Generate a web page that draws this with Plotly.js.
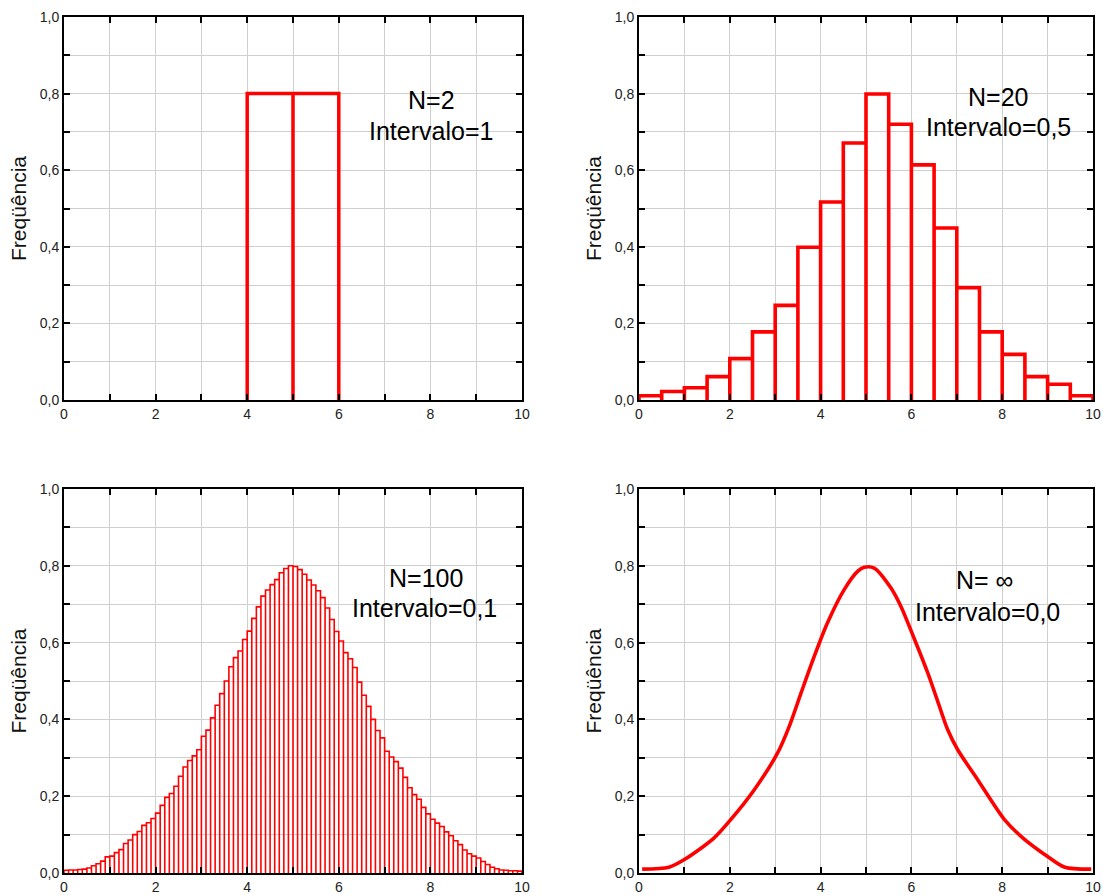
<!DOCTYPE html>
<html>
<head>
<meta charset="utf-8">
<script src="https://cdn.plot.ly/plotly-3.0.1.min.js"></script>
<style>html,body{margin:0;padding:0;background:#fff;}#chart{width:1103px;height:895px;}</style>
</head>
<body>
<div id="chart"></div>
<script>
// ---------- data ----------
// N = 2, interval = 1
const n2Edges = [4, 5, 6];
const n2Freq = [0.8, 0.8];

// N = 20, interval = 0,5
const n20Edges = [0, 0.5, 1, 1.5, 2, 2.5, 3, 3.5, 4, 4.5, 5, 5.5, 6, 6.5, 7, 7.5, 8, 8.5, 9, 9.5, 10];
const n20Freq = [0.011, 0.022, 0.032, 0.061, 0.108, 0.178, 0.247, 0.399, 0.517, 0.671,
                 0.799, 0.720, 0.614, 0.449, 0.293, 0.178, 0.119, 0.061, 0.041, 0.011];

// N = 100, interval = 0,1 (bins of 0.1 from 0 to 10)
const n100Start = 0;
const n100BinWidth = 0.1;
const n100Freq = [
  0.007, 0.008, 0.008, 0.009, 0.010, 0.013, 0.019, 0.024, 0.031, 0.042,
  0.044, 0.053, 0.061, 0.077, 0.086, 0.100, 0.108, 0.124, 0.131, 0.142,
  0.156, 0.176, 0.197, 0.207, 0.226, 0.252, 0.276, 0.293, 0.305, 0.321,
  0.356, 0.372, 0.404, 0.437, 0.467, 0.500, 0.537, 0.561, 0.578, 0.608,
  0.630, 0.663, 0.693, 0.721, 0.737, 0.751, 0.764, 0.782, 0.793, 0.800,
  0.798, 0.790, 0.778, 0.763, 0.750, 0.735, 0.717, 0.690, 0.660, 0.629,
  0.604, 0.574, 0.558, 0.535, 0.497, 0.463, 0.434, 0.400, 0.371, 0.352,
  0.317, 0.302, 0.290, 0.273, 0.249, 0.222, 0.204, 0.192, 0.171, 0.154,
  0.140, 0.130, 0.121, 0.107, 0.097, 0.084, 0.074, 0.060, 0.050, 0.044,
  0.039, 0.030, 0.022, 0.015, 0.011, 0.008, 0.007, 0.006, 0.006, 0.005
];

// N = infinity, interval = 0,0 (continuous curve)
const nInfX = [0.07, 0.66, 1.0, 1.65, 2.02, 2.54, 3.05, 3.31, 3.57, 3.86, 4.15, 4.52, 4.82, 4.96,
               5.18, 5.55, 5.77, 6.07, 6.36, 6.58, 6.8, 7.02, 7.46, 8.05, 8.42, 9.0, 9.38, 9.96];
const nInfY = [0.010, 0.015, 0.035, 0.091, 0.139, 0.217, 0.312, 0.382, 0.469, 0.564, 0.651, 0.738, 0.786, 0.796,
               0.794, 0.742, 0.694, 0.608, 0.521, 0.447, 0.373, 0.321, 0.243, 0.139, 0.095, 0.043, 0.015, 0.010];

// labels
const yTitle = 'Freqüência';
const panelLabels = [
  ['N=2', 'Intervalo=1'],
  ['N=20', 'Intervalo=0,5'],
  ['N=100', 'Intervalo=0,1'],
  ['N= \u221E', 'Intervalo=0,0']
];

// ---------- helpers ----------
function regularEdges(start, width, n) {
  const e = [];
  for (let i = 0; i <= n; i++) e.push(+(start + i * width).toFixed(6));
  return e;
}
// outline of each histogram bar (left side, top, right side; open at the bottom)
function barOutline(edges, freq) {
  const x = [], y = [];
  for (let i = 0; i < freq.length; i++) {
    x.push(edges[i], edges[i], edges[i + 1], edges[i + 1]);
    y.push(0, freq[i], freq[i], 0);
  }
  return {x, y};
}

const o2 = barOutline(n2Edges, n2Freq);
const o20 = barOutline(n20Edges, n20Freq);
const o100 = barOutline(regularEdges(n100Start, n100BinWidth, n100Freq.length), n100Freq);

const RED = '#ff0000';
const GRID = '#cfcfcf';
const FONT = 'Liberation Sans, Arial, sans-serif';

const traces = [
  {type: 'scatter', mode: 'lines', x: o2.x, y: o2.y, xaxis: 'x', yaxis: 'y',
   line: {color: RED, width: 3.5}, hoverinfo: 'x+y'},
  {type: 'scatter', mode: 'lines', x: o20.x, y: o20.y, xaxis: 'x2', yaxis: 'y2',
   line: {color: RED, width: 3.6}, hoverinfo: 'x+y'},
  {type: 'scatter', mode: 'lines', x: o100.x, y: o100.y, xaxis: 'x3', yaxis: 'y3',
   line: {color: RED, width: 1.6}, hoverinfo: 'x+y'},
  {type: 'scatter', mode: 'lines', x: nInfX, y: nInfY, xaxis: 'x4', yaxis: 'y4',
   line: {color: RED, width: 3.6, shape: 'spline', smoothing: 0.8}}
];

function xAxis(domain, anchor) {
  return {
    domain: domain, anchor: anchor, range: [0, 10], autorange: false,
    dtick: 2, tick0: 0, ticks: 'inside', ticklen: 6, tickwidth: 2, tickcolor: '#000',
    showline: true, linecolor: '#000', linewidth: 2, mirror: 'ticks',
    showgrid: true, gridcolor: GRID, gridwidth: 1, zeroline: false,
    minor: {dtick: 1, tick0: 0, ticks: 'inside', ticklen: 6, tickwidth: 2, tickcolor: '#000',
            showgrid: true, gridcolor: GRID, gridwidth: 1},
    tickfont: {family: FONT, size: 14, color: '#222'},
    automargin: false, fixedrange: true
  };
}
function yAxis(domain, anchor) {
  return {
    domain: domain, anchor: anchor, range: [0, 1], autorange: false,
    dtick: 0.2, tick0: 0, tickformat: '.1f',
    ticks: 'inside', ticklen: 6, tickwidth: 2, tickcolor: '#000',
    showline: true, linecolor: '#000', linewidth: 2, mirror: 'ticks',
    showgrid: true, gridcolor: GRID, gridwidth: 1, zeroline: false,
    minor: {dtick: 0.1, tick0: 0, ticks: 'inside', ticklen: 6, tickwidth: 2, tickcolor: '#000',
            showgrid: true, gridcolor: GRID, gridwidth: 1},
    tickfont: {family: FONT, size: 14, color: '#222'},
    title: {text: yTitle, font: {family: FONT, size: 21, color: '#111'}, standoff: 7},
    automargin: false, fixedrange: true
  };
}

const W = 1103, H = 895;
const dxL = [64 / W, 522 / W], dxR = [639 / W, 1093 / W];
const dyT = [1 - 400 / H, 1 - 17 / H], dyB = [1 - 873 / H, 1 - 489 / H];

const annPos = [
  [['x', 'y', 8.02, 0.783], ['x', 'y', 8.02, 0.703]],
  [['x2', 'y2', 7.91, 0.791], ['x2', 'y2', 7.91, 0.713]],
  [['x3', 'y3', 7.9, 0.767], ['x3', 'y3', 7.88, 0.69]],
  [['x4', 'y4', 7.62, 0.764], ['x4', 'y4', 7.68, 0.681]]
];
const annotations = [];
panelLabels.forEach((lines, i) => {
  lines.forEach((t, j) => {
    const p = annPos[i][j];
    annotations.push({text: t, xref: p[0], yref: p[1], x: p[2], y: p[3],
      showarrow: false, xanchor: 'center', yanchor: 'middle',
      font: {family: FONT, size: 25, color: '#000'}});
  });
});

const layout = {
  width: W, height: H,
  margin: {l: 0, r: 0, t: 0, b: 0, pad: 0},
  paper_bgcolor: '#fff', plot_bgcolor: '#fff',
  separators: ',.',
  showlegend: false,
  xaxis: xAxis(dxL, 'y'), yaxis: yAxis(dyT, 'x'),
  xaxis2: xAxis(dxR, 'y2'), yaxis2: yAxis(dyT, 'x2'),
  xaxis3: xAxis(dxL, 'y3'), yaxis3: yAxis(dyB, 'x3'),
  xaxis4: xAxis(dxR, 'y4'), yaxis4: yAxis(dyB, 'x4'),
  annotations: annotations
};

Plotly.newPlot('chart', traces, layout, {displayModeBar: false, staticPlot: true});
</script>
</body>
</html>
